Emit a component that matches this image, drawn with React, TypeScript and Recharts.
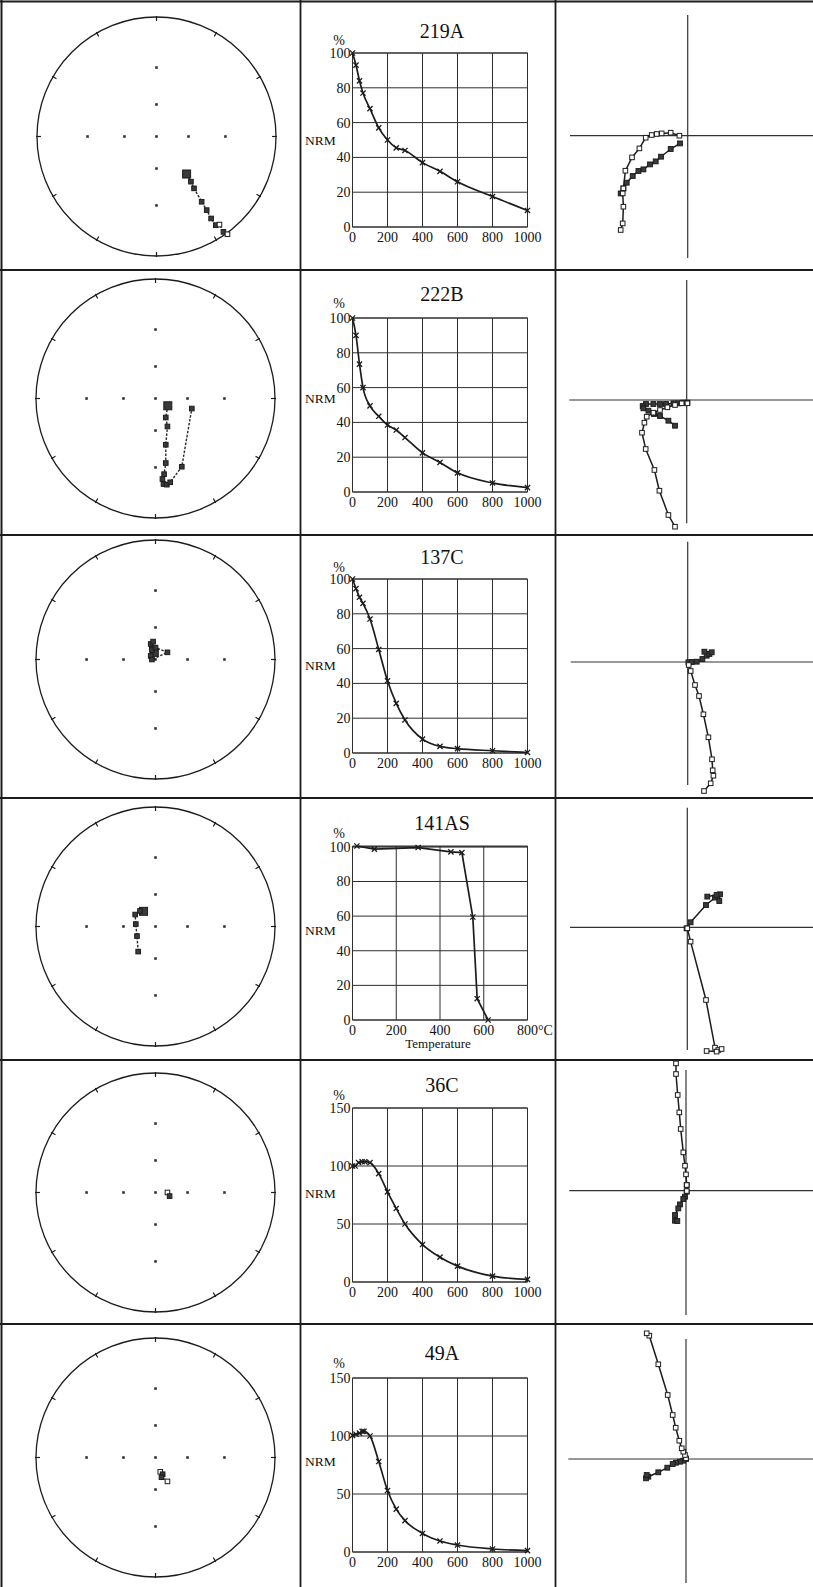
import React from 'react';
import {
  ScatterChart, Scatter, XAxis, YAxis, ReferenceArea, ReferenceLine,
  LineChart, Line, CartesianGrid,
} from 'recharts';

const FONT = '"Liberation Serif", "Times New Roman", serif';
const INK = '#1c1c1c';

// ---------- sample names ----------
const sampleNames = ['219A', '222B', '137C', '141AS', '36C', '49A'];

// ---------- demagnetisation curves (step, % NRM) ----------
const steps219A = [0, 20, 40, 60, 100, 150, 200, 250, 300, 400, 500, 600, 800, 1000];
const nrm219A = [100, 93, 84, 77, 68, 57, 50, 45.5, 44, 37, 32, 26, 17.5, 9.5];
const steps222B = [0, 20, 40, 60, 100, 150, 200, 250, 300, 400, 500, 600, 800, 1000];
const nrm222B = [100, 90, 73.5, 60, 49.5, 43.5, 38.5, 35.6, 31.3, 22.5, 17, 11, 5.2, 2.5];
const steps137C = [0, 20, 40, 60, 100, 150, 200, 250, 300, 400, 500, 600, 800, 1000];
const nrm137C = [100, 94.5, 89.5, 86, 77, 59.5, 41.5, 28.5, 19, 8, 3.8, 2.5, 1.3, 0.3];
const steps141AS = [20, 100, 300, 450, 500, 550, 570, 620];
const nrm141AS = [100.5, 98.7, 99.6, 97.1, 96.7, 59.5, 12.3, 0];
const steps36C = [0, 15, 35, 55, 70, 100, 150, 200, 250, 300, 400, 500, 600, 800, 1000];
const nrm36C = [100, 100, 103, 103.7, 103.7, 102.9, 93.4, 77.7, 63.4, 50, 32.3, 21.4, 13.7, 5.1, 2.3];
const steps49A = [0, 20, 40, 55, 65, 100, 150, 200, 250, 300, 400, 500, 600, 800, 1000];
const nrm49A = [100.5, 101.5, 102.5, 104, 104, 100, 78, 53, 37, 27, 16, 9.5, 6, 2.6, 1.2];

// ---------- axis ticks ----------
const stepTicks = [0, 200, 400, 600, 800, 1000];
const tempTicks = [0, 200, 400, 600, 800];
const pctTicks100 = [0, 20, 40, 60, 80, 100];
const pctTicks150 = [0, 50, 100, 150];

// ---------- stereonet directions (projected, unit radius; f: filled, big: NRM) ----------
const net219A = [
  { x: 0.252, y: -0.314, f: 1, big: 1 }, { x: 0.288, y: -0.378, f: 1 }, { x: 0.314, y: -0.434, f: 1 },
  { x: 0.378, y: -0.546, f: 1 }, { x: 0.42, y: -0.616, f: 1 }, { x: 0.457, y: -0.686, f: 1 },
  { x: 0.496, y: -0.742, f: 1 }, { x: 0.527, y: -0.737, f: 0 }, { x: 0.56, y: -0.798, f: 1 },
  { x: 0.594, y: -0.818, f: 0 },
];
const net222B = [
  { x: 0.103, y: -0.061, f: 1, big: 1 }, { x: 0.086, y: -0.159, f: 1 }, { x: 0.1, y: -0.234, f: 1 },
  { x: 0.086, y: -0.387, f: 1 }, { x: 0.086, y: -0.54, f: 1 }, { x: 0.072, y: -0.633, f: 1 },
  { x: 0.058, y: -0.674, f: 1 }, { x: 0.067, y: -0.716, f: 1 }, { x: 0.095, y: -0.721, f: 1 },
  { x: 0.123, y: -0.701, f: 1 }, { x: 0.22, y: -0.571, f: 1 }, { x: 0.304, y: -0.084, f: 1 },
];
const net137C = [
  { x: -0.01, y: 0.06, f: 1, big: 1 }, { x: -0.03, y: 0.1, f: 1 }, { x: -0.04, y: 0.13, f: 1 },
  { x: -0.02, y: 0.15, f: 1 }, { x: -0.03, y: 0.08, f: 1 }, { x: -0.04, y: 0.03, f: 1 },
  { x: -0.03, y: 0.0, f: 1 }, { x: 0.1, y: 0.06, f: 1 }, { x: 0.0, y: 0.1, f: 1 },
];
const net141AS = [
  { x: -0.1, y: 0.127, f: 1, big: 1 }, { x: -0.13, y: 0.13, f: 1 }, { x: -0.17, y: 0.1, f: 1 },
  { x: -0.165, y: 0.02, f: 1 }, { x: -0.155, y: -0.08, f: 1 }, { x: -0.145, y: -0.21, f: 1 },
];
const net36C = [{ x: 0.1, y: 0.0, f: 0 }, { x: 0.118, y: -0.03, f: 1 }];
const net49A = [
  { x: 0.04, y: -0.12, f: 0 }, { x: 0.06, y: -0.14, f: 1 }, { x: 0.05, y: -0.165, f: 1 },
  { x: 0.1, y: -0.2, f: 0 },
];

// ---------- Zijderveld projections (arbitrary units: horizontal=filled, vertical=open) ----------
const zijV219A = [
  { x: -8.3, y: 0 }, { x: -17, y: 3 }, { x: -26, y: 2.3 }, { x: -31, y: 1.7 }, { x: -36, y: 0.7 },
  { x: -42, y: -2 }, { x: -48.3, y: -12.7 }, { x: -55.7, y: -21.7 }, { x: -62.3, y: -35 },
  { x: -64.3, y: -52.7 }, { x: -65, y: -57.7 }, { x: -64.3, y: -71 }, { x: -65, y: -87.7 }, { x: -67, y: -94.3 },
];
const zijH219A = [
  { x: -7.7, y: -7.7 }, { x: -17, y: -13.3 }, { x: -26.7, y: -21 }, { x: -32, y: -25.7 },
  { x: -37.7, y: -28.7 }, { x: -44.3, y: -33.7 }, { x: -49.3, y: -35.3 }, { x: -55, y: -40.3 },
  { x: -61, y: -47 }, { x: -64.3, y: -52.7 }, { x: -67, y: -57.7 },
];
const zijV222B = [
  { x: 0.7, y: -3.3 }, { x: -5, y: -3.3 }, { x: -11.7, y: -5 }, { x: -19.3, y: -7.3 }, { x: -26.7, y: -10 },
  { x: -33.3, y: -12.7 }, { x: -40, y: -16.7 }, { x: -42.3, y: -22.7 }, { x: -44.7, y: -32.7 },
  { x: -41, y: -49 }, { x: -32.3, y: -70 }, { x: -27.3, y: -90.7 }, { x: -18.3, y: -115 }, { x: -11.7, y: -126.7 },
];
const zijH222B = [
  { x: 0.7, y: -2.7 }, { x: -3.3, y: -2.7 }, { x: -8.3, y: -3.3 }, { x: -13.3, y: -3.3 }, { x: -20.7, y: -4 },
  { x: -26.7, y: -4 }, { x: -33.3, y: -4 }, { x: -40.7, y: -4 }, { x: -44, y: -6 }, { x: -43.3, y: -8.3 },
  { x: -38.3, y: -10.7 }, { x: -32.7, y: -14 }, { x: -26.7, y: -16 }, { x: -18.3, y: -20.7 }, { x: -11.7, y: -25.7 },
];
const zijV137C = [
  { x: 1, y: -3 }, { x: 3, y: -9 }, { x: 7.3, y: -23 }, { x: 11.3, y: -34 }, { x: 15.7, y: -52.3 },
  { x: 20.7, y: -75.3 }, { x: 24.3, y: -97.3 }, { x: 25, y: -108.3 }, { x: 25.7, y: -113.7 },
  { x: 23, y: -121.3 }, { x: 16.3, y: -129 },
];
const zijH137C = [
  { x: 0.7, y: -0.3 }, { x: 4, y: 0 }, { x: 9, y: 0.3 }, { x: 14.7, y: 3 }, { x: 19, y: 6.3 },
  { x: 21.7, y: 8 }, { x: 24, y: 9.7 }, { x: 16.7, y: 10.3 },
];
const zijV141AS = [
  { x: 0, y: -1 }, { x: 3.3, y: -14.3 }, { x: 18.7, y: -72.7 }, { x: 27.7, y: -120.3 },
  { x: 31, y: -122.7 }, { x: 34.3, y: -121.7 }, { x: 29.3, y: -124.3 }, { x: 19.3, y: -123.7 },
];
const zijH141AS = [
  { x: -0.7, y: -1 }, { x: 3.3, y: 5 }, { x: 18.7, y: 22.3 }, { x: 27.7, y: 29.7 }, { x: 32, y: 26.3 },
  { x: 32.7, y: 33 }, { x: 29.3, y: 32.3 }, { x: 20, y: 30.7 },
];
const zijV36C = [
  { x: 0.7, y: -0.3 }, { x: 0.7, y: 5.7 }, { x: 0, y: 16.3 }, { x: -1, y: 25 }, { x: -2.7, y: 38.3 },
  { x: -5.3, y: 61.7 }, { x: -6.7, y: 78.3 }, { x: -8.3, y: 95.7 }, { x: -10, y: 116.7 }, { x: -10, y: 127.3 },
];
const zijH36C = [
  { x: 0.7, y: 5.7 }, { x: 0.7, y: -1 }, { x: -1, y: -6 }, { x: -2.7, y: -8.3 }, { x: -6, y: -13.7 },
  { x: -7.7, y: -17.7 }, { x: -11, y: -24.3 }, { x: -11, y: -30 }, { x: -8.7, y: -30.3 },
];
const zijV49A = [
  { x: 0, y: 0.7 }, { x: -1, y: 4 }, { x: -2.7, y: 7.3 }, { x: -4.3, y: 10.7 }, { x: -6.7, y: 18.3 },
  { x: -10.3, y: 31.3 }, { x: -13.3, y: 44 }, { x: -18.3, y: 64 }, { x: -27.7, y: 94.7 },
  { x: -36.7, y: 123.3 }, { x: -39.3, y: 125.7 },
];
const zijH49A = [
  { x: 0, y: 0 }, { x: -2.7, y: -1.7 }, { x: -6, y: -2.7 }, { x: -10, y: -3.7 }, { x: -13.3, y: -5 },
  { x: -18.7, y: -8.7 }, { x: -27.7, y: -13.3 }, { x: -37.7, y: -17.7 }, { x: -40, y: -19.3 }, { x: -39.3, y: -16 },
];

// ---------- stereonet graticule ----------
const netGridDots = [
  { x: 0, y: 0 }, { x: 0.268, y: 0 }, { x: -0.268, y: 0 }, { x: 0.577, y: 0 }, { x: -0.577, y: 0 },
  { x: 0, y: 0.268 }, { x: 0, y: -0.268 }, { x: 0, y: 0.577 }, { x: 0, y: -0.577 },
];
const netTickAngles = [0, 30, 60, 90, 120, 150, 180, 210, 240, 270, 300, 330];

// ---------- layout (page pixels) ----------
const rows = [
  { net: net219A, steps: steps219A, nrm: nrm219A, zV: zijV219A, zH: zijH219A, yMax: 100, yTicks: pctTicks100, xMax: 1000, xTicks: stepTicks, curve: 'monotone',
    netC: [156.5, 136], plotTop: 53, title: 38, pct: 45, nrmLbl: 145, z: { ox: 687.7, oy: 135.7, vTop: 15, vBot: 258, hStart: 570, top: 3, bot: 269 } },
  { net: net222B, steps: steps222B, nrm: nrm222B, zV: zijV222B, zH: zijH222B, yMax: 100, yTicks: pctTicks100, xMax: 1000, xTicks: stepTicks, curve: 'monotone',
    netC: [155.3, 398.8], plotTop: 318.3, title: 300.7, pct: 308, nrmLbl: 402.7, z: { ox: 686.7, oy: 400, vTop: 280, vBot: 523.3, hStart: 569.3, top: 271, bot: 534 } },
  { net: net137C, steps: steps137C, nrm: nrm137C, zV: zijV137C, zH: zijH137C, yMax: 100, yTicks: pctTicks100, xMax: 1000, xTicks: stepTicks, curve: 'monotone',
    netC: [155, 659], plotTop: 579, title: 564.3, pct: 571.7, nrmLbl: 670, z: { ox: 687.7, oy: 662, vTop: 541.7, vBot: 785, hStart: 570.7, top: 536, bot: 797 } },
  { net: net141AS, steps: steps141AS, nrm: nrm141AS, zV: zijV141AS, zH: zijH141AS, yMax: 100, yTicks: pctTicks100, xMax: 800, xTicks: tempTicks, curve: 'linear',
    netC: [155, 926.4], plotTop: 846, title: 830, pct: 838, nrmLbl: 935, z: { ox: 687.3, oy: 927.3, vTop: 807.7, vBot: 1050, hStart: 570, top: 799, bot: 1059 } },
  { net: net36C, steps: steps36C, nrm: nrm36C, zV: zijV36C, zH: zijH36C, yMax: 150, yTicks: pctTicks150, xMax: 1000, xTicks: stepTicks, curve: 'monotone',
    netC: [155, 1192], plotTop: 1107.7, title: 1092, pct: 1100, nrmLbl: 1197.7, z: { ox: 686, oy: 1190.7, vTop: 1070, vBot: 1315, hStart: 569.3, top: 1058, bot: 1323 } },
  { net: net49A, steps: steps49A, nrm: nrm49A, zV: zijV49A, zH: zijH49A, yMax: 150, yTicks: pctTicks150, xMax: 1000, xTicks: stepTicks, curve: 'monotone',
    netC: [155, 1457], plotTop: 1377.7, title: 1360, pct: 1367.7, nrmLbl: 1465.7, z: { ox: 686, oy: 1459, vTop: 1339, vBot: 1583, hStart: 568.3, top: 1325, bot: 1587 } },
];

const NET_R = 119.5;
const PLOT_LEFT = 352.5;
const PLOT_W = 175;
const PLOT_H = 174;
const rowLines = [270, 535, 798, 1060, 1324];
const colLines = [300.5, 555.5];

// ---------- shapes ----------
const NetOutline = (p: any) => {
  const r = p.width / 2;
  const cx = p.x + p.width / 2;
  const cy = p.y + p.height / 2;
  return (
    <g>
      <ellipse cx={cx} cy={cy} rx={p.width / 2} ry={p.height / 2} fill="none" stroke={INK} strokeWidth={1.3} />
      {netTickAngles.map((a) => {
        const rad = (a * Math.PI) / 180;
        const s = Math.sin(rad);
        const c = Math.cos(rad);
        return (
          <line key={a} x1={cx + s * (r + 1)} y1={cy - c * (r + 1)} x2={cx + s * (r - 4)} y2={cy - c * (r - 4)} stroke={INK} strokeWidth={1.2} />
        );
      })}
    </g>
  );
};

const GridDot = (p: any) => (
  <rect x={p.cx - 1.3} y={p.cy - 1.3} width={2.6} height={2.6} fill="#333" />
);

const NetMarker = (p: any) => {
  const s = p.payload && p.payload.big ? 8 : 4.6;
  const filled = p.payload && p.payload.f;
  return (
    <rect x={p.cx - s / 2} y={p.cy - s / 2} width={s} height={s} fill={filled ? '#3a3a3a' : '#fff'} stroke={INK} strokeWidth={1} />
  );
};

const OpenSquare = (p: any) => (
  <rect x={p.cx - 2.3} y={p.cy - 2.3} width={4.6} height={4.6} fill="#fff" stroke={INK} strokeWidth={1} />
);
const FilledSquare = (p: any) => (
  <rect x={p.cx - 2.4} y={p.cy - 2.4} width={4.8} height={4.8} fill="#3a3a3a" stroke={INK} strokeWidth={1} />
);

const CrossDot = (p: any) => {
  const { cx, cy } = p;
  if (cx == null || cy == null) return <g key={'d' + p.index} />;
  const d = 2.6;
  return (
    <path key={'d' + p.index} d={`M${cx - d},${cy - d}L${cx + d},${cy + d}M${cx - d},${cy + d}L${cx + d},${cy - d}`} stroke={INK} strokeWidth={1.3} fill="none" />
  );
};

const XTickLabel = (p: any) => {
  const v = p.payload ? p.payload.value : '';
  const withUnit = p.unitAt != null && v === p.unitAt;
  return (
    <text
      x={withUnit ? p.x - 10.5 : p.x}
      y={p.y}
      dy="0.71em"
      textAnchor={withUnit ? 'start' : 'middle'}
      fontFamily={FONT}
      fontSize={14}
      fill="#111"
    >
      {withUnit ? `${v}°C` : v}
    </text>
  );
};

// ---------- panels ----------
function Stereonet({ cx, cy, points }: any) {
  const pad = 8;
  const size = 2 * NET_R + 2 * pad;
  return (
    <div style={{ position: 'absolute', left: cx - NET_R - pad, top: cy - NET_R - pad }}>
      <ScatterChart width={size} height={size} margin={{ top: pad, right: pad, bottom: pad, left: pad }}>
        <XAxis type="number" dataKey="x" domain={[-1, 1]} hide allowDataOverflow />
        <YAxis type="number" dataKey="y" domain={[-1, 1]} hide allowDataOverflow />
        <ReferenceArea x1={-1} x2={1} y1={-1} y2={1} shape={NetOutline} ifOverflow="visible" />
        <Scatter data={netGridDots} shape={GridDot} isAnimationActive={false} />
        <Scatter
          data={points}
          shape={NetMarker}
          line={{ stroke: '#2a2a2a', strokeWidth: 1.4, strokeDasharray: '2.5 1.5' }}
          lineType="joint"
          isAnimationActive={false}
        />
      </ScatterChart>
    </div>
  );
}

function Demag({ plotTop, steps, values, yMax, yTicks, xMax, xTicks, curve }: any) {
  const data = steps.map((t: number, i: number) => ({ t, v: values[i] }));
  const chartLeft = 300;
  const chartW = 256;
  const yAxisW = 40;
  const mTop = 30;
  const mBottom = 12;
  const xAxisH = 22;
  const chartH = mTop + PLOT_H + xAxisH + mBottom;
  const mLeft = PLOT_LEFT - chartLeft - yAxisW;
  const mRight = chartLeft + chartW - (PLOT_LEFT + PLOT_W);
  const unitAt = xMax === 800 ? 800 : null;
  return (
    <div style={{ position: 'absolute', left: chartLeft, top: plotTop - mTop }}>
      <LineChart width={chartW} height={chartH} data={data} margin={{ top: mTop, right: mRight, bottom: mBottom, left: mLeft }}>
        <CartesianGrid stroke="#2e2e2e" strokeWidth={1} />
        <XAxis
          type="number"
          dataKey="t"
          domain={[0, xMax]}
          ticks={xTicks}
          interval={0}
          tickLine={false}
          axisLine={false}
          tickSize={0}
          tickMargin={5}
          height={xAxisH}
          tick={(p: any) => <XTickLabel {...p} unitAt={unitAt} />}
        />
        <YAxis
          type="number"
          domain={[0, yMax]}
          ticks={yTicks}
          interval={0}
          width={yAxisW}
          tickLine={false}
          axisLine={false}
          tickSize={0}
          tickMargin={2}
          tick={{ fontFamily: FONT, fontSize: 14, fill: '#111' }}
        />
        <ReferenceArea x1={0} x2={xMax} y1={0} y2={yMax} fill="none" stroke="#2e2e2e" strokeWidth={1} ifOverflow="visible" />
        <Line dataKey="v" type={curve} stroke={INK} strokeWidth={1.7} dot={CrossDot} isAnimationActive={false} />
      </LineChart>
    </div>
  );
}

function Zijderveld({ z, open, filled }: any) {
  const left = 557;
  const right = 813;
  const W = right - left;
  const H = z.bot - z.top;
  return (
    <div style={{ position: 'absolute', left, top: z.top }}>
      <ScatterChart width={W} height={H} margin={{ top: 0, right: 0, bottom: 0, left: 0 }}>
        <XAxis type="number" dataKey="x" domain={[left - z.ox, right - z.ox]} hide />
        <YAxis type="number" dataKey="y" domain={[z.oy - z.bot, z.oy - z.top]} hide />
        <ReferenceLine segment={[{ x: z.hStart - z.ox, y: 0 }, { x: right - z.ox, y: 0 }]} stroke="#333" strokeWidth={1.2} ifOverflow="visible" />
        <ReferenceLine segment={[{ x: 0, y: z.oy - z.vTop }, { x: 0, y: z.oy - z.vBot }]} stroke="#333" strokeWidth={1.2} ifOverflow="visible" />
        <Scatter data={filled} shape={FilledSquare} line={{ stroke: INK, strokeWidth: 1.5 }} lineType="joint" isAnimationActive={false} />
        <Scatter data={open} shape={OpenSquare} line={{ stroke: INK, strokeWidth: 1.5 }} lineType="joint" isAnimationActive={false} />
      </ScatterChart>
    </div>
  );
}

export default function App() {
  return (
    <div style={{ position: 'absolute', left: 0, top: 0, width: 813, height: 1587, background: '#fff', overflow: 'hidden' }}>
      {rows.map((r, i) => (
        <React.Fragment key={i}>
          <Stereonet cx={r.netC[0]} cy={r.netC[1]} points={r.net} />
          <Demag plotTop={r.plotTop} steps={r.steps} values={r.nrm} yMax={r.yMax} yTicks={r.yTicks} xMax={r.xMax} xTicks={r.xTicks} curve={r.curve} />
          <Zijderveld z={r.z} open={r.zV} filled={r.zH} />
        </React.Fragment>
      ))}
      <svg width={813} height={1587} style={{ position: 'absolute', left: 0, top: 0, pointerEvents: 'none' }}>
        <line x1={1.5} y1={0} x2={1.5} y2={1587} stroke={INK} strokeWidth={2} />
        <line x1={0} y1={1.5} x2={813} y2={1.5} stroke={INK} strokeWidth={2} />
        {rowLines.map((y) => (
          <line key={'r' + y} x1={0} y1={y} x2={813} y2={y} stroke={INK} strokeWidth={1.8} />
        ))}
        {colLines.map((x) => (
          <line key={'c' + x} x1={x} y1={0} x2={x} y2={1587} stroke={INK} strokeWidth={1.8} />
        ))}
        {rows.map((r, i) => (
          <g key={'t' + i} fontFamily={FONT} fill="#111">
            <text x={PLOT_LEFT + PLOT_W / 2 + 2} y={r.title} fontSize={20} textAnchor="middle">{sampleNames[i]}</text>
            <text x={339} y={r.pct} fontSize={14} textAnchor="middle">%</text>
            <text x={305} y={r.nrmLbl} fontSize={13.5}>NRM</text>
            {r.xMax === 800 ? (
              <text x={438} y={r.plotTop + PLOT_H + 28} fontSize={13} textAnchor="middle">Temperature</text>
            ) : null}
          </g>
        ))}
      </svg>
    </div>
  );
}
